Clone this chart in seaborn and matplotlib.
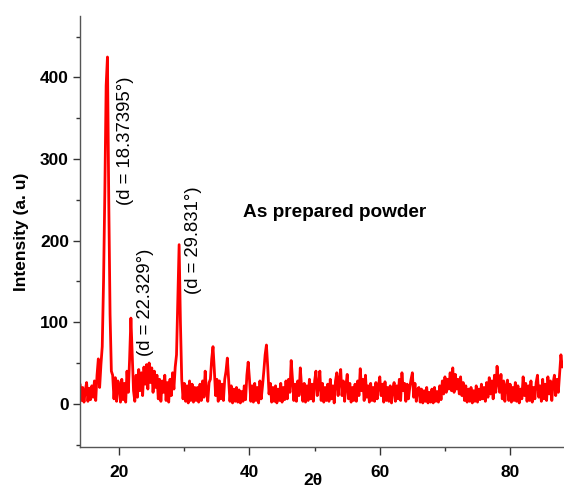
import numpy as np
import pandas as pd
import matplotlib
matplotlib.use("Agg")
import matplotlib.pyplot as plt
import seaborn as sns
from matplotlib.ticker import MultipleLocator

# 2-theta scan: start angle, step and the measured intensities (a.u.)
theta_start = 14.0
theta_step = 0.2
intensity = [
    24, 4, 20, 2, 16, 26, 3, 19, 5, 22,          # 14.0 - 15.8
    8, 28, 4, 35, 55, 20, 48, 70, 150, 260,      # 16.0 - 17.8
    390, 425, 250, 110, 40, 35, 6, 32, 3, 28,    # 18.0 - 19.8
    22, 2, 30, 5, 25, 2, 40, 14, 55, 105,        # 20.0 - 21.8
    60, 16, 3, 35, 8, 42, 16, 38, 10, 45,        # 22.0 - 23.8
    24, 48, 18, 50, 26, 44, 14, 40, 20, 35,      # 24.0 - 25.8
    6, 30, 3, 28, 14, 35, 4, 26, 2, 30,          # 26.0 - 27.8
    10, 38, 18, 45, 60, 130, 195, 100, 30, 6,    # 28.0 - 29.8
    25, 3, 22, 1, 28, 4, 24, 2, 20, 4,           # 30.0 - 31.8
    20, 2, 24, 4, 28, 8, 40, 14, 3, 26,          # 32.0 - 33.8
    30, 55, 70, 42, 10, 30, 3, 28, 6, 24,        # 34.0 - 35.8
    4, 30, 40, 56, 30, 3, 22, 1, 18, 3,          # 36.0 - 37.8
    20, 2, 17, 1, 15, 3, 22, 5, 35, 51,          # 38.0 - 39.8
    30, 3, 22, 2, 25, 4, 20, 1, 28, 6,           # 40.0 - 41.8
    22, 40, 60, 72, 45, 12, 25, 2, 20, 3,        # 42.0 - 43.8
    22, 1, 18, 4, 25, 2, 20, 5, 28, 6,           # 44.0 - 45.8
    30, 14, 53, 30, 4, 24, 3, 28, 10, 44,        # 46.0 - 47.8
    20, 3, 25, 2, 22, 4, 30, 6, 24, 3,           # 48.0 - 49.8
    28, 40, 10, 22, 40, 4, 25, 2, 20, 4,         # 50.0 - 51.8
    24, 3, 30, 6, 22, 1, 28, 38, 10, 30,         # 52.0 - 53.8
    42, 10, 28, 3, 22, 36, 6, 25, 2, 20,         # 54.0 - 55.8
    4, 24, 3, 28, 10, 43, 16, 30, 4, 35,         # 56.0 - 57.8
    8, 22, 2, 25, 4, 20, 3, 26, 6, 22,           # 58.0 - 59.8
    33, 10, 24, 2, 27, 4, 20, 3, 22, 1,          # 60.0 - 61.8
    18, 26, 3, 22, 6, 30, 4, 38, 16, 25,         # 62.0 - 63.8
    3, 24, 6, 20, 30, 38, 8, 25, 3, 18,          # 64.0 - 65.8
    20, 2, 18, 1, 16, 3, 20, 1, 14, 2,           # 66.0 - 67.8
    18, 1, 20, 3, 15, 2, 22, 5, 28, 12,          # 68.0 - 69.8
    33, 14, 30, 18, 38, 16, 44, 14, 36, 18,      # 70.0 - 71.8
    30, 12, 33, 10, 26, 4, 22, 2, 18, 3,         # 72.0 - 73.8
    20, 1, 16, 3, 22, 2, 18, 5, 24, 6,           # 74.0 - 75.8
    20, 3, 26, 8, 32, 12, 28, 6, 35, 14,         # 76.0 - 77.8
    46, 26, 14, 36, 6, 28, 3, 22, 29, 4,         # 78.0 - 79.8
    24, 2, 20, 4, 26, 3, 22, 1, 18, 6,           # 80.0 - 81.8
    33, 10, 25, 3, 22, 4, 28, 2, 20, 6,          # 82.0 - 83.8
    26, 35, 8, 22, 3, 30, 6, 24, 4, 33,          # 84.0 - 85.8
    12, 28, 4, 25, 35, 10, 30, 14, 38, 60,       # 86.0 - 87.8
    45,                                          # 88.0
]

# peak annotations: (text, 2-theta position, intensity position)
peak_labels = ["(d = 18.37395°)", "(d = 22.329°)", "(d = 29.831°)"]
peak_label_x = [20.9, 24.0, 31.4]
peak_label_y = [322, 124, 200]

theta = theta_start + theta_step * np.arange(len(intensity))
df = pd.DataFrame({"two_theta": theta, "intensity": intensity})

sns.set_theme(style="ticks")
plt.rcParams["font.family"] = ["Liberation Sans", "DejaVu Sans"]
plt.rcParams["text.color"] = "black"
plt.rcParams["axes.labelcolor"] = "black"
plt.rcParams["xtick.color"] = "black"
plt.rcParams["ytick.color"] = "black"

fig = plt.figure(figsize=(5.64, 4.91), dpi=100)
ax = fig.add_axes([0.142, 0.0896, 0.856, 0.8774])

sns.lineplot(data=df, x="two_theta", y="intensity", ax=ax,
             color="#ff0000", linewidth=2.0)

ax.set_xlim(14, 88.1)
ax.set_ylim(-53, 475)
ax.xaxis.set_major_locator(MultipleLocator(20))
ax.xaxis.set_minor_locator(MultipleLocator(10))
ax.yaxis.set_major_locator(MultipleLocator(100))
ax.yaxis.set_minor_locator(MultipleLocator(50))

for side in ("top", "right"):
    ax.spines[side].set_visible(False)
for side in ("left", "bottom"):
    ax.spines[side].set_color("#555555")
    ax.spines[side].set_linewidth(1.0)

ax.tick_params(axis="both", which="major", direction="out", length=5,
               width=1, color="#333333", labelsize=12.5, pad=3,
               labelcolor="black")
ax.tick_params(axis="x", which="major", length=6, pad=7)
ax.tick_params(axis="both", which="minor", direction="out", length=3,
               width=1, color="#333333")
for lbl in ax.get_xticklabels() + ax.get_yticklabels():
    lbl.set_fontweight("bold")

ax.set_xlabel("2θ", fontsize=12.5, fontweight="bold", labelpad=0)
ax.xaxis.set_label_coords(0.483, -0.061)
ax.set_ylabel("Intensity (a. u)", fontsize=12.5, fontweight="bold", labelpad=8)

for txt, px, py in zip(peak_labels, peak_label_x, peak_label_y):
    ax.text(px, py, txt, rotation=90, fontsize=13.3, ha="center", va="center",
            color="black")

ax.text(53.1, 235, "As prepared powder", fontsize=13.7, fontweight="bold",
        ha="center", va="center", color="black")

fig.savefig("out.png", dpi=100)
